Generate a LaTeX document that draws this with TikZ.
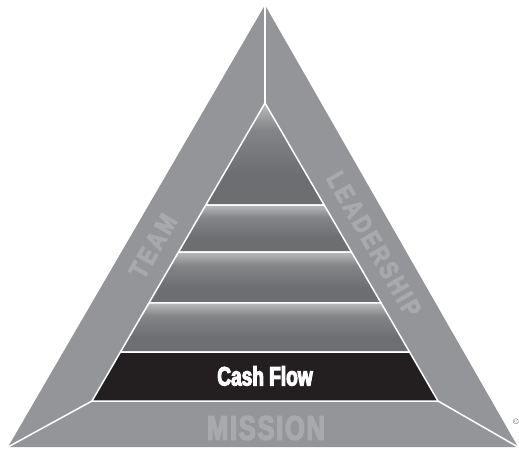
\documentclass[tikz,border=0pt]{standalone}
\usepackage{fontspec}
\usetikzlibrary{calc}
\newfontfamily\cashfont[FakeStretch=0.72,FakeBold=4]{Liberation Sans Bold}
\newfontfamily\missionfont[FakeStretch=0.75,LetterSpace=5,FakeBold=4]{Liberation Sans Bold}
\newfontfamily\sidefont[FakeStretch=0.8,LetterSpace=12,FakeBold=4]{Liberation Sans Bold}
\definecolor{outergray}{HTML}{939598}
\definecolor{labelgray}{HTML}{A7A9AC}
\definecolor{bandlight}{HTML}{B9BABC}
\definecolor{banddark}{HTML}{6D6E71}
\definecolor{baseblack}{HTML}{231F20}
\pgfdeclareverticalshading{bandshade}{100bp}{%
  color(0bp)=(banddark); color(25bp)=(banddark); color(40bp)=(banddark);
  color(62bp)=(banddark!70!bandlight); color(75bp)=(bandlight); color(100bp)=(bandlight)}
\tikzset{
  sep/.style={draw=white, line width=1.5pt},
  bandbox/.style={shading=bandshade, draw=white, line width=1.5pt, line join=round},
  sidelabel/.style={text=labelgray, font=\sidefont\fontsize{26}{26}\selectfont, inner sep=0pt},
}
\begin{document}
\begin{tikzpicture}[x=1pt,y=-1pt]
\useasboundingbox (0,0) rectangle (519,450);
% outer triangle
\coordinate (oa) at (265,5);
\coordinate (ol) at (8,447);
\coordinate (or) at (518,447);
% inner triangle
\coordinate (ia) at (265,103);
\coordinate (il) at (92,401);
\coordinate (ir) at (438,401);
\fill[outergray] (oa) -- (ol) -- (or) -- cycle;
\draw[sep] (oa) -- (ia);
\draw[sep] (ol) -- (il);
\draw[sep] (or) -- (ir);
% band corners
\foreach \n/\t in {1/0.3423,2/0.5,3/0.6711,4/0.8356}{
  \coordinate (l\n) at ($(ia)!\t!(il)$);
  \coordinate (r\n) at ($(ia)!\t!(ir)$);
}
\path[bandbox] (ia) -- (r1) -- (l1) -- cycle;
\path[bandbox] (l1) -- (r1) -- (r2) -- (l2) -- cycle;
\path[bandbox] (l2) -- (r2) -- (r3) -- (l3) -- cycle;
\path[bandbox] (l3) -- (r3) -- (r4) -- (l4) -- cycle;
\filldraw[fill=baseblack, draw=white, line width=1.5pt, line join=round] (l4) -- (r4) -- (ir) -- (il) -- cycle;
% labels
\node[text=white, font=\cashfont\fontsize{26.5}{26.5}\selectfont, inner sep=0pt] (cash) at (265,376) {Cash Flow};
\node[text=labelgray, font=\missionfont\fontsize{34}{34}\selectfont, inner sep=0pt] (mission) at (266,428) {MISSION};
\node[sidelabel, rotate=60] (team) at (153,246) {TEAM};
\node[sidelabel, rotate=-60] (leadership) at (374,244) {LEADERSHIP};
\node[anchor=west, font=\fontsize{8}{8}\selectfont, text=black!70, inner sep=0pt] (copy) at (513,422) {\textcopyright};
\end{tikzpicture}
\end{document}
